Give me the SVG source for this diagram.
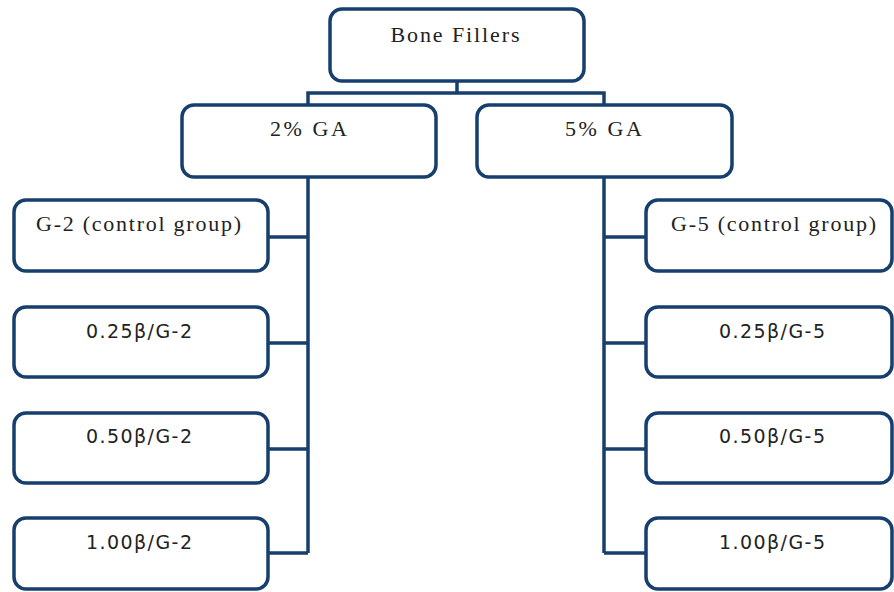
<svg xmlns="http://www.w3.org/2000/svg" width="894" height="592" viewBox="0 0 894 592">
<style>
.box{fill:#fff;stroke:#173f6e;stroke-width:3.5}
.conn{fill:none;stroke:#173f6e;stroke-width:3.5}
.serif{font-family:"Liberation Serif","Times New Roman",serif;font-size:22px;fill:#222;text-anchor:middle}
.sans{font-family:"DejaVu Sans",Verdana,sans-serif;font-size:19px;fill:#222;text-anchor:middle}
</style>
<rect width="894" height="592" fill="#fff"/>
<g id="connectors">
<path class="conn" d="M457 81 V93 M308 105 V93 H604 V105"/>
<path class="conn" d="M308 177 V553 M268 237 H308 M268 343 H308 M268 449 H308 M268 553 H308"/>
<path class="conn" d="M604 177 V553 M604 237 H646 M604 343 H646 M604 449 H646 M604 553 H646"/>
</g>
<g id="bone-fillers">
<rect class="box" x="330" y="9" width="254" height="72" rx="12"/>
<text class="serif" x="455" y="42" textLength="129" lengthAdjust="spacing">Bone Fillers</text>
</g>
<g id="ga2">
<rect class="box" x="182" y="105" width="254" height="72" rx="12"/>
<text class="serif" x="308.5" y="136" textLength="77" lengthAdjust="spacing">2% GA</text>
</g>
<g id="ga5">
<rect class="box" x="477" y="105" width="255" height="72" rx="12"/>
<text class="serif" x="603.5" y="136" textLength="77" lengthAdjust="spacing">5% GA</text>
</g>
<g id="g2-control">
<rect class="box" x="14" y="200" width="254" height="71" rx="12"/>
<text class="serif" x="138.5" y="231" textLength="205" lengthAdjust="spacing">G-2 (control group)</text>
</g>
<g id="g2-025">
<rect class="box" x="14" y="307" width="254" height="70" rx="12"/>
<text class="sans" x="139" y="338" textLength="106" lengthAdjust="spacing">0.25β/G-2</text>
</g>
<g id="g2-050">
<rect class="box" x="14" y="413" width="254" height="70" rx="12"/>
<text class="sans" x="139" y="443" textLength="106" lengthAdjust="spacing">0.50β/G-2</text>
</g>
<g id="g2-100">
<rect class="box" x="14" y="518" width="254" height="71" rx="12"/>
<text class="sans" x="139" y="549" textLength="106" lengthAdjust="spacing">1.00β/G-2</text>
</g>
<g id="g5-control">
<rect class="box" x="646" y="200" width="246" height="71" rx="12"/>
<text class="serif" x="773.5" y="231" textLength="205" lengthAdjust="spacing">G-5 (control group)</text>
</g>
<g id="g5-025">
<rect class="box" x="646" y="307" width="246" height="70" rx="12"/>
<text class="sans" x="772" y="338" textLength="106" lengthAdjust="spacing">0.25β/G-5</text>
</g>
<g id="g5-050">
<rect class="box" x="646" y="413" width="246" height="70" rx="12"/>
<text class="sans" x="772" y="443" textLength="106" lengthAdjust="spacing">0.50β/G-5</text>
</g>
<g id="g5-100">
<rect class="box" x="646" y="518" width="246" height="71" rx="12"/>
<text class="sans" x="772" y="549" textLength="106" lengthAdjust="spacing">1.00β/G-5</text>
</g>
</svg>
